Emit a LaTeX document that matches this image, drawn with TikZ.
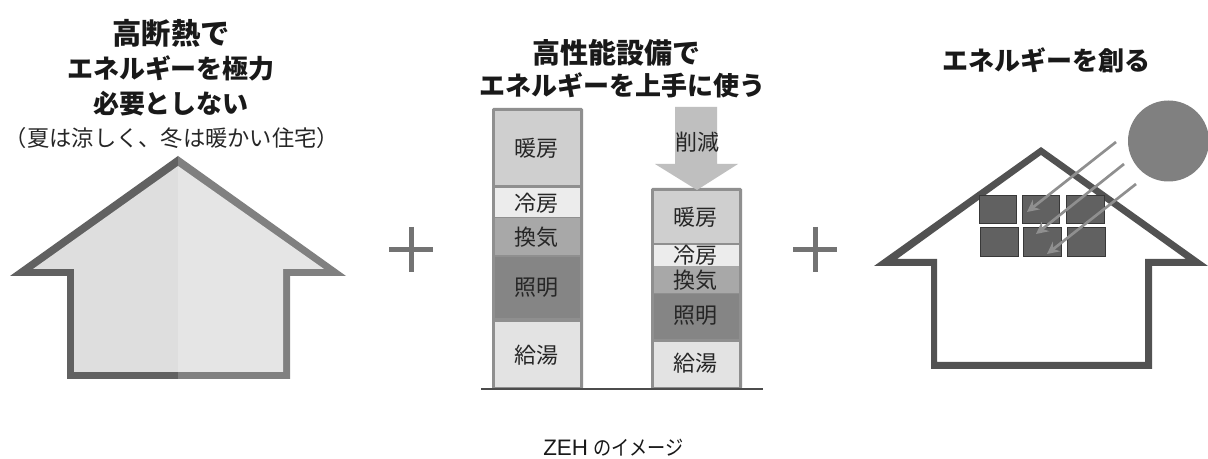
\documentclass[tikz,border=0pt]{standalone}
\usepackage{fontspec}
\setmainfont{Noto Sans CJK JP}
\newfontfamily\capjp[FakeStretch=0.88]{Noto Sans CJK JP}
\newfontfamily\caplat{Liberation Sans}
\usetikzlibrary{arrows.meta}
\definecolor{framec}{HTML}{8F8F8F}
\definecolor{heatc}{HTML}{CFCFCF}
\definecolor{coolc}{HTML}{ECECEC}
\definecolor{ventc}{HTML}{A8A8A8}
\definecolor{lightc}{HTML}{858585}
\definecolor{waterc}{HTML}{E3E3E3}
\tikzset{
  headtext/.style={font=\fontsize{19.5pt}{26pt}\selectfont\bfseries, align=center, inner sep=0pt, text=black!90},
  headbig/.style={font=\fontsize{22pt}{26pt}\selectfont\bfseries, inner sep=0pt, text=black!90},
  headmid/.style={font=\fontsize{21pt}{26pt}\selectfont\bfseries, inner sep=0pt, text=black!90},
  subtext/.style={font=\fontsize{16.7pt}{20pt}\selectfont, inner sep=0pt, text=black!85},
  barlabel/.style={font=\fontsize{16.5pt}{20pt}\selectfont, inner sep=0pt, text=black!85},
  captiontext/.style={font=\fontsize{16.8pt}{20pt}\selectfont, inner sep=0pt, text=black!90},
  plusline/.style={draw=black!55, line width=3.75pt},
  ray/.style={draw=framec, line width=2pt, -{Stealth[length=9pt,width=9pt]}},
  panelbox/.style={fill=black!62, draw=black!78, line width=0.6pt}
}
\begin{document}
\begin{tikzpicture}[x=0.75pt,y=-0.75pt]
\useasboundingbox (0,0) rectangle (1208,459);
\fill[white] (0,0) rectangle (1208,459);

% left house
\fill[black!62] (178,156) -- (10,276) -- (67,276) -- (67,379) -- (178,379) -- cycle;
\fill[black!50] (178,156) -- (346,276) -- (290,276) -- (290,379) -- (178,379) -- cycle;
\fill[black!13] (178,166) -- (33,269) -- (74,269) -- (74,372) -- (178,372) -- cycle;
\fill[black!10] (178,166) -- (324,269) -- (283,269) -- (283,372) -- (178,372) -- cycle;
\node[headbig] (h1a) at (171,33) {高断熱で};
\node[headtext] (h1b) at (171,86) {エネルギーを極力\\必要としない};
\node[subtext] (h1s) at (172,138) {（夏は涼しく、冬は暖かい住宅）};

% plus signs
\coordinate (p1l) at (389,249.5); \coordinate (p1r) at (433,249.5);
\coordinate (p1t) at (411,227); \coordinate (p1b) at (411,272);
\draw[plusline] (p1l) -- (p1r);
\draw[plusline] (p1t) -- (p1b);
\coordinate (p2l) at (793,249.5); \coordinate (p2r) at (837,249.5);
\coordinate (p2t) at (815,227); \coordinate (p2b) at (815,272);
\draw[plusline] (p2l) -- (p2r);
\draw[plusline] (p2t) -- (p2b);

% middle
\node[headmid] (h2a) at (616,53) {高性能設備で};
\node[headtext] (h2b) at (622,85) {エネルギーを上手に使う};

\fill[framec,rounded corners=1pt] (492,108) rectangle (583,389);
\fill[heatc]  (495,111) rectangle (580,185);
\fill[coolc]  (495,188) rectangle (580,217);
\fill[ventc]  (495,218) rectangle (580,255);
\fill[lightc] (495,257) rectangle (580,318);
\fill[waterc] (495,322) rectangle (580,387);
\node[barlabel] (a1) at (536,148) {暖房};
\node[barlabel] (a2) at (536,203) {冷房};
\node[barlabel] (a3) at (536,237) {換気};
\node[barlabel] (a4) at (536,288) {照明};
\node[barlabel] (a5) at (536,355) {給湯};

\fill[framec,rounded corners=1pt] (651,188) rectangle (742,389);
\fill[heatc]  (654,191) rectangle (739,243);
\fill[coolc]  (654,245) rectangle (739,266);
\fill[ventc]  (654,266) rectangle (739,293);
\fill[lightc] (654,294) rectangle (739,339);
\fill[waterc] (654,342) rectangle (739,387);
\fill[black!25] (675,107) -- (717,107) -- (717,164) -- (738,164) -- (697,190) -- (655,164) -- (675,164) -- cycle;
\node[barlabel] (b0) at (697,142) {削減};
\node[barlabel] (b1) at (695.5,217) {暖房};
\node[barlabel] (b2) at (695.5,255) {冷房};
\node[barlabel] (b3) at (695.5,280) {換気};
\node[barlabel] (b4) at (695.5,316) {照明};
\node[barlabel] (b5) at (695.5,363) {給湯};

\coordinate (gl) at (481,389); \coordinate (gr) at (763,389);
\draw[draw=black!70, line width=1.3pt] (gl) -- (gr);

% right house
\node[headtext] (h3) at (1046,60) {エネルギーを創る};
\fill[black!68,even odd rule]
  (1041,147) -- (874,266) -- (931,266) -- (931,369) -- (1152,369) -- (1152,266) -- (1208,266) -- cycle
  (1041,155) -- (897,259) -- (937,259) -- (937,362) -- (1145,362) -- (1145,259) -- (1186,259) -- cycle;
\filldraw[panelbox] (979,195) rectangle (1016,223);
\filldraw[panelbox] (1022,195) rectangle (1059,223);
\filldraw[panelbox] (1066,195) rectangle (1104,223);
\filldraw[panelbox] (980,227) rectangle (1018,256);
\filldraw[panelbox] (1023,227) rectangle (1061,256);
\filldraw[panelbox] (1067,227) rectangle (1105,256);
\node[circle,fill=black!50,minimum size=60.75pt,inner sep=0pt] (sun) at (1168.5,141) {};
\coordinate (r1s) at (1116,142); \coordinate (r1e) at (1027,212);
\coordinate (r2s) at (1124,164); \coordinate (r2e) at (1036,234);
\coordinate (r3s) at (1136,184); \coordinate (r3e) at (1047,254);
\draw[ray] (r1s) -- (r1e);
\draw[ray] (r2s) -- (r2e);
\draw[ray] (r3s) -- (r3e);

\node[captiontext] (cap) at (613.5,448) {{\caplat ZEH} {\capjp\fontsize{15.5pt}{20pt}\selectfont のイメージ}};
\end{tikzpicture}
\end{document}
